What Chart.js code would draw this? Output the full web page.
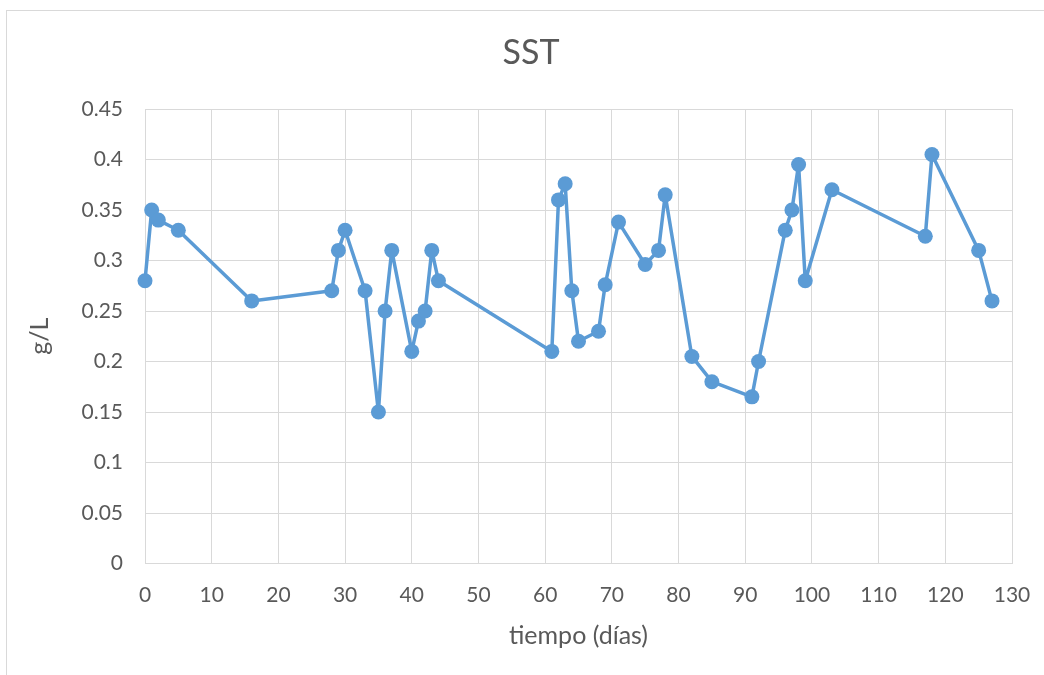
<!DOCTYPE html>
<html>
<head>
<meta charset="utf-8">
<script src="https://cdn.jsdelivr.net/npm/chart.js@4"></script>
<style>
  html, body { margin: 0; padding: 0; background: #ffffff; }
  #wrap { position: relative; width: 1044px; height: 675px; }
  canvas { display: block; }
</style>
</head>
<body>
<div id="wrap"><canvas id="c" width="1044" height="675"></canvas></div>
<script>
// ---- data ----
const days = [0, 1, 2, 5, 16, 28, 29, 30, 33, 35, 36, 37, 40, 41, 42, 43, 44,
              61, 62, 63, 64, 65, 68, 69, 71, 75, 77, 78, 82, 85, 91, 92,
              96, 97, 98, 99, 103, 117, 118, 125, 127];
const sst = [0.28, 0.35, 0.34, 0.33, 0.26, 0.27, 0.31, 0.33, 0.27, 0.15, 0.25, 0.31, 0.21, 0.24, 0.25, 0.31, 0.28,
             0.21, 0.36, 0.376, 0.27, 0.22, 0.23, 0.276, 0.338, 0.296, 0.31, 0.365, 0.205, 0.18, 0.165, 0.20,
             0.33, 0.35, 0.395, 0.28, 0.37, 0.324, 0.405, 0.31, 0.26];
const xTicks = [0, 10, 20, 30, 40, 50, 60, 70, 80, 90, 100, 110, 120, 130];
const yTicks = [0, 0.05, 0.1, 0.15, 0.2, 0.25, 0.3, 0.35, 0.4, 0.45];
const chartTitle = 'SST';
const xTitle = 'tiempo (días)';
const yTitle = 'g/L';

const points = days.map((d, i) => ({ x: d, y: sst[i] }));
const FONT = 'Lato, "Open Sans", sans-serif';
const TXT = '#595959';
const GRID = '#D9D9D9';

const frame = {
  id: 'frame',
  beforeDraw(chart) {
    const ctx = chart.ctx;
    ctx.save();
    ctx.fillStyle = '#ffffff';
    ctx.fillRect(0, 0, chart.width, chart.height);
    ctx.strokeStyle = GRID;
    ctx.lineWidth = 1;
    ctx.strokeRect(6.5, 10.5, 2000, 2000);
    ctx.restore();
  }
};

new Chart(document.getElementById('c'), {
  type: 'line',
  data: {
    datasets: [{
      label: chartTitle,
      data: points,
      borderColor: '#5B9BD5',
      backgroundColor: '#5B9BD5',
      borderWidth: 3.5,
      borderJoinStyle: 'round',
      borderCapStyle: 'round',
      pointRadius: 7.5,
      pointHoverRadius: 7.5,
      pointBorderWidth: 0,
      pointBackgroundColor: '#5B9BD5',
      tension: 0,
      clip: false
    }]
  },
  options: {
    responsive: false,
    animation: false,
    events: [],
    layout: { padding: { left: 18, right: 0, top: 0, bottom: 0 } },
    plugins: {
      legend: { display: false },
      tooltip: { enabled: false },
      title: {
        display: true,
        text: chartTitle,
        color: TXT,
        font: { family: FONT, size: 34, weight: 'normal', lineHeight: 1.2 },
        padding: { top: 32.6, bottom: 35.6 }
      }
    },
    scales: {
      x: {
        type: 'linear',
        min: 0, max: 130,
        afterBuildTicks: s => { s.ticks = xTicks.map(v => ({ value: v })); },
        afterFit: s => { s.height = 675 - 563.5; s.paddingRight = 32; s.paddingLeft = 0; },
        grid: { color: GRID, lineWidth: 1, drawTicks: false },
        border: { color: GRID, width: 1 },
        ticks: {
          color: TXT, padding: 19,
          font: { family: FONT, size: 21 },
          callback: v => String(v)
        },
        title: {
          display: true, text: xTitle, color: TXT,
          font: { family: FONT, size: 25, lineHeight: 1.2 },
          padding: { top: 0, bottom: 24 }
        }
      },
      y: {
        type: 'linear',
        min: 0, max: 0.45,
        afterBuildTicks: s => { s.ticks = yTicks.map(v => ({ value: v })); },
        afterFit: s => { s.width = 127; },
        grid: { color: GRID, lineWidth: 1, drawTicks: false },
        border: { color: GRID, width: 1 },
        ticks: {
          color: TXT, padding: 22,
          font: { family: FONT, size: 21 },
          callback: v => String(Number(v.toFixed(2)))
        },
        title: {
          display: true, text: yTitle, color: TXT,
          font: { family: FONT, size: 25, lineHeight: 1.2 },
          padding: { top: 7, bottom: 0 }
        }
      }
    }
  },
  plugins: [frame]
});
</script>
</body>
</html>
